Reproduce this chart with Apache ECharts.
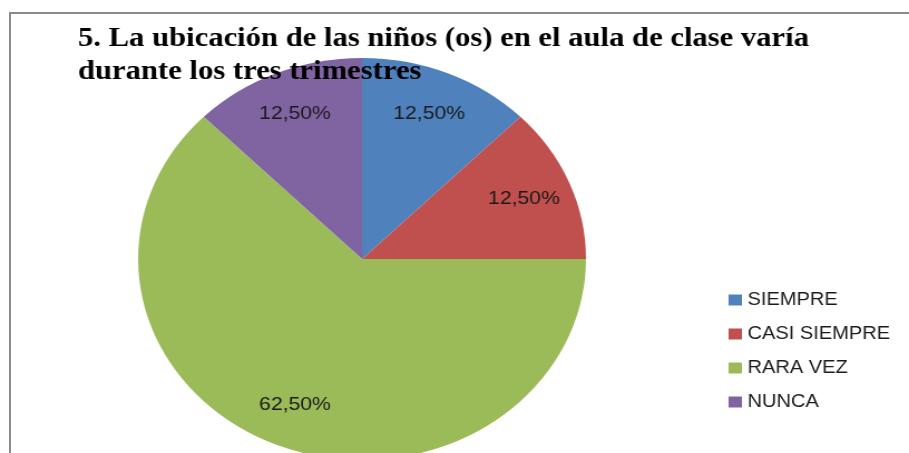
<!DOCTYPE html>
<html lang="es">
<head>
    <meta charset="utf-8">
    <title>Ubicación de los niños en el aula</title>
    <script src="https://cdn.jsdelivr.net/npm/echarts@6/dist/echarts.min.js"></script>
    <style>
        html, body { margin: 0; padding: 0; background: #fff; overflow: hidden; }
        #marco {
            position: absolute; left: 9px; top: 12px;
            width: 960px; height: 500px;
            border-top: 2px solid #8a8a8a; border-left: 2px solid #8a8a8a;
        }
        /* the original picture is stretched sideways, so the chart is too */
        #grafico {
            position: absolute; left: 0; top: 0;
            width: 816px; height: 453px;
            transform-origin: 0 0;
            transform: scaleX(1.114);
        }
    </style>
</head>
<body>
<div id="marco"></div>
<div id="grafico"></div>
<script type="text/javascript">
    // datos
    var categorias = ['SIEMPRE', 'CASI SIEMPRE', 'RARA VEZ', 'NUNCA'];
    var porcentajes = [12.5, 12.5, 62.5, 12.5];
    var colores = ['#4F81BD', '#C0504D', '#9BBB59', '#8064A2'];
    var titulo = '5. La ubicación de las niños (os) en el aula de clase varía\ndurante los tres trimestres';

    var centro = [325, 259];

    var datos = [];
    for (var i = 0; i < categorias.length; i++) {
        datos.push({ name: categorias[i], value: porcentajes[i], itemStyle: { color: colores[i] } });
    }

    var grafico = echarts.init(document.getElementById('grafico'), null, { renderer: 'canvas' });
    var option = {
        animation: false,
        title: {
            text: titulo,
            left: 70,
            top: 22,
            padding: 0,
            textStyle: {
                fontFamily: '"Liberation Serif", "DejaVu Serif", serif',
                fontWeight: 'bold',
                fontSize: 27.5,
                lineHeight: 33,
                color: '#000'
            }
        },
        legend: {
            orient: 'vertical',
            left: 649,
            top: 286,
            itemWidth: 12,
            itemHeight: 11,
            itemGap: 16,
            icon: 'rect',
            data: categorias,
            textStyle: {
                fontFamily: '"Liberation Sans", Arial, sans-serif',
                fontSize: 18,
                color: '#1a1a1a'
            }
        },
        series: [{
            type: 'pie',
            center: centro,
            radius: 201,
            startAngle: 90,
            clockwise: true,
            avoidLabelOverlap: false,
            silent: true,
            label: {
                show: true,
                position: 'inside',
                fontFamily: '"Liberation Sans", Arial, sans-serif',
                fontSize: 19,
                color: '#1a1a1a',
                formatter: function (p) {
                    return p.value.toFixed(2).replace('.', ',') + '%';
                }
            },
            labelLine: { show: false },
            // push the labels out from mid radius to about 0.75 of the radius
            labelLayout: function (p) {
                var lx = p.labelRect.x + p.labelRect.width / 2 - centro[0];
                var ly = p.labelRect.y + p.labelRect.height / 2 - centro[1];
                return { dx: lx * 0.52, dy: ly * 0.52 };
            },
            data: datos
        }]
    };
    grafico.setOption(option);
</script>
</body>
</html>
